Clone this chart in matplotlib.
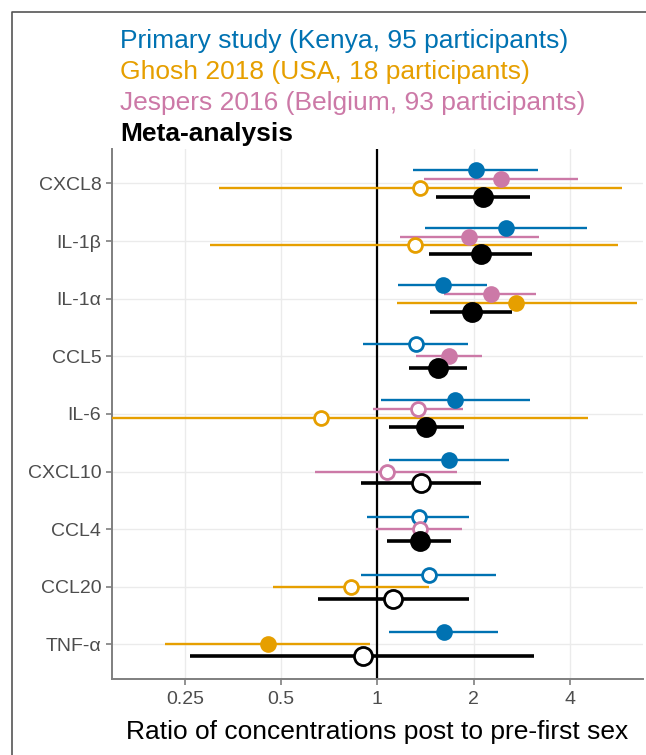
import numpy as np
import matplotlib.pyplot as plt
from matplotlib.lines import Line2D

plt.rcParams['font.family'] = ['Liberation Sans', 'DejaVu Sans']

cytokines = ['CXCL8', 'IL-1β', 'IL-1α', 'CCL5', 'IL-6', 'CXCL10', 'CCL4', 'CCL20', 'TNF-α']

# ratio estimate with 95% CI, None where the study did not measure it
kenya_est = [2.03, 2.53, 1.61, 1.32, 1.75, 1.68, 1.35, 1.45, 1.62]
kenya_lo = [1.29, 1.41, 1.16, 0.90, 1.03, 1.09, 0.93, 0.89, 1.09]
kenya_hi = [3.19, 4.52, 2.20, 1.92, 3.00, 2.58, 1.93, 2.35, 2.39]
kenya_sig = [1, 1, 1, 0, 1, 1, 0, 0, 1]

jespers_est = [2.44, 1.94, 2.26, 1.67, 1.34, 1.07, 1.36, None, None]
jespers_lo = [1.40, 1.18, 1.62, 1.32, 0.97, 0.64, 0.99, None, None]
jespers_hi = [4.23, 3.21, 3.13, 2.12, 1.85, 1.78, 1.84, None, None]
jespers_sig = [1, 1, 1, 1, 0, 0, 0, None, None]

ghosh_est = [1.36, 1.31, 2.72, None, 0.666, None, None, 0.825, 0.454]
ghosh_lo = [0.32, 0.30, 1.15, None, 0.10, None, None, 0.47, 0.216]
ghosh_hi = [5.83, 5.67, 6.49, None, 4.55, None, None, 1.45, 0.95]
ghosh_sig = [0, 0, 1, None, 0, None, None, 0, 1]

meta_est = [2.14, 2.11, 1.97, 1.55, 1.42, 1.37, 1.36, 1.12, 0.90]
meta_lo = [1.52, 1.45, 1.46, 1.26, 1.09, 0.89, 1.07, 0.65, 0.26]
meta_hi = [3.00, 3.04, 2.64, 1.91, 1.86, 2.11, 1.70, 1.93, 3.09]
meta_sig = [1, 1, 1, 1, 1, 0, 1, 0, 0]

studies = [
    ('Primary study (Kenya, 95 participants)', '#0072B2', kenya_est, kenya_lo, kenya_hi, kenya_sig),
    ('Jespers 2016 (Belgium, 93 participants)', '#CC79A7', jespers_est, jespers_lo, jespers_hi, jespers_sig),
    ('Ghosh 2018 (USA, 18 participants)', '#E69F00', ghosh_est, ghosh_lo, ghosh_hi, ghosh_sig),
    ('Meta-analysis', 'black', meta_est, meta_lo, meta_hi, meta_sig),
]
legend_order = [0, 2, 1, 3]

fig = plt.figure(figsize=(6.46, 7.55), dpi=100)
ax = fig.add_axes([0.1729, 0.1007, 0.8225, 0.7022])

ax.set_xscale('log', base=2)
ax.set_xlim(2 ** -2.76, 2 ** 2.76)
ax.set_ylim(0.4, len(cytokines) + 0.6)

dodge = 0.62
n_cat = len(cytokines)
for i in range(n_cat):
    ycenter = n_cat - i
    present = [s for s in studies if s[2][i] is not None]
    n = len(present)
    for k, (name, col, est, lo, hi, sig) in enumerate(present):
        y = ycenter + ((n - 1) / 2 - k) * dodge / n
        meta = name == 'Meta-analysis'
        lw = 2.6 if meta else 1.7
        ms = 13 if meta else 10
        ax.plot([lo[i], hi[i]], [y, y], color=col, lw=lw, solid_capstyle='butt', zorder=3)
        face = col if sig[i] else 'white'
        ax.plot(est[i], y, 'o', ms=ms, mfc=face, mec=col, mew=2.0, zorder=4)

ax.axvline(1, color='black', lw=1.6, zorder=2)

ax.set_xticks([0.25, 0.5, 1, 2, 4])
ax.set_xticklabels(['0.25', '0.5', '1', '2', '4'])
ax.xaxis.set_minor_locator(plt.NullLocator())
ax.set_yticks(np.arange(n_cat, 0, -1))
ax.set_yticklabels(cytokines)
ax.grid(True, color='#EBEBEB', lw=1.0, zorder=0)
ax.set_axisbelow(True)
for side in ['top', 'right']:
    ax.spines[side].set_visible(False)
for side in ['left', 'bottom']:
    ax.spines[side].set_color('#7F7F7F')
    ax.spines[side].set_linewidth(1.4)
ax.tick_params(colors='#7F7F7F', length=4, width=1.2, labelsize=14, labelcolor='#4D4D4D')
ax.tick_params(axis='x', pad=5)
ax.set_xlabel('Ratio of concentrations post to pre-first sex', fontsize=19, labelpad=8)

for row, j in enumerate(legend_order):
    name, col = studies[j][0], studies[j][1]
    fig.text(120 / 646, 1 - (41 + row * 31) / 755, name, color=col, fontsize=19,
             va='center', ha='left', fontweight='bold' if name == 'Meta-analysis' else 'normal')

# outer frame from the original figure
fig.add_artist(Line2D([12 / 646, 12 / 646, 1.0], [0.0, 1 - 12 / 755, 1 - 12 / 755],
                      transform=fig.transFigure, color='#555555', lw=1.2))

fig.savefig('out.png', dpi=100)
